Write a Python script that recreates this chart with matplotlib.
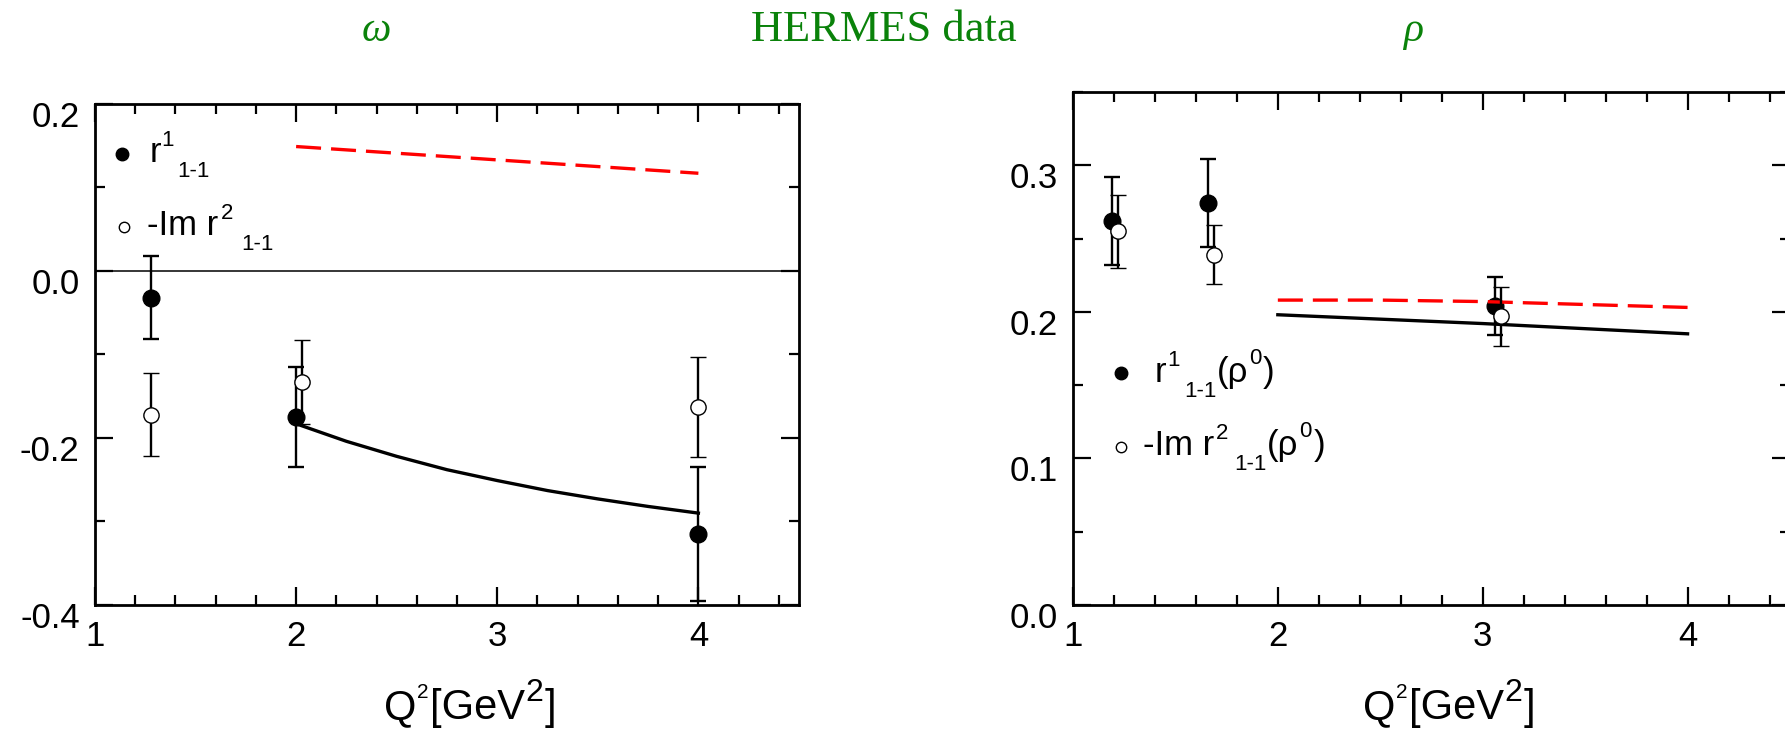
import matplotlib
matplotlib.use("Agg")
import matplotlib.pyplot as plt
import matplotlib.transforms as mtransforms
from matplotlib.ticker import MultipleLocator

# omega panel data (HERMES)
omega_q2_r1 = [1.28, 2.0, 4.0]
omega_r1 = [-0.032, -0.175, -0.315]
omega_r1_err = [0.05, 0.06, 0.08]
omega_q2_imr2 = [1.28, 2.03, 4.0]
omega_imr2 = [-0.172, -0.133, -0.163]
omega_imr2_err = [0.05, 0.05, 0.06]

omega_solid_q2 = [2.0, 2.25, 2.5, 2.75, 3.0, 3.25, 3.5, 3.75, 4.0]
omega_solid = [-0.183, -0.204, -0.222, -0.238, -0.251, -0.263, -0.273, -0.282, -0.290]
omega_dashed_q2 = [2.0, 3.0, 4.0]
omega_dashed = [0.149, 0.133, 0.117]

# rho panel data (HERMES)
rho_q2_r1 = [1.19, 1.66, 3.06]
rho_r1 = [0.262, 0.274, 0.204]
rho_r1_err = [0.030, 0.030, 0.020]
rho_q2_imr2 = [1.22, 1.69, 3.09]
rho_imr2 = [0.255, 0.239, 0.197]
rho_imr2_err = [0.025, 0.020, 0.020]

rho_solid_q2 = [2.0, 3.0, 4.0]
rho_solid = [0.198, 0.192, 0.185]
rho_dashed_q2 = [2.0, 2.5, 3.0, 3.5, 4.0]
rho_dashed = [0.208, 0.208, 0.207, 0.205, 0.203]

SANS = "Liberation Sans"
SERIF = "Liberation Serif"
GREEN = "#0a820a"

plt.rcParams["font.family"] = [SANS, "DejaVu Sans"]

fig = plt.figure(figsize=(17.85, 7.31), dpi=100)
ax1 = fig.add_axes([0.0532, 0.1724, 0.3944, 0.6854])
ax2 = fig.add_axes([0.6011, 0.1724, 0.4017, 0.7018])
renderer = fig.canvas.get_renderer()


def rich_text(ax, x, y, parts, coords="data", center=False):
    # parts: (text, fontsize, dy in px, gap before in px)
    pieces = []
    cursor = 0.0
    for text, size, dy, gap in parts:
        t = ax.annotate(text, (x, y), xycoords=coords, xytext=(0, dy),
                        textcoords="offset pixels", fontsize=size,
                        ha="left", va="baseline", annotation_clip=False)
        cursor += gap
        pieces.append((t, cursor, dy))
        cursor += t.get_window_extent(renderer).width
    shift = cursor / 2 if center else 0
    for t, cx, dy in pieces:
        t.xyann = (cx - shift, dy)


def style_axes(ax, ylim, ymajor, yminor):
    ax.set_xlim(1, 4.5)
    ax.set_ylim(*ylim)
    ax.xaxis.set_major_locator(MultipleLocator(1))
    ax.xaxis.set_minor_locator(MultipleLocator(0.2))
    ax.yaxis.set_major_locator(MultipleLocator(ymajor))
    ax.yaxis.set_minor_locator(MultipleLocator(yminor))
    ax.yaxis.set_major_formatter(plt.FuncFormatter(lambda v, p: f"{v:.1f}"))
    ax.tick_params(which="both", direction="in", top=True, right=True, width=1.6)
    ax.tick_params(which="major", length=13, labelsize=25, pad=11)
    ax.tick_params(which="minor", length=7)
    for sp in ax.spines.values():
        sp.set_linewidth(2)
    # y tick labels sit a bit below their ticks in the original
    off = mtransforms.ScaledTranslation(0, -7 / 72, fig.dpi_scale_trans)
    for lab in ax.get_yticklabels():
        lab.set_transform(lab.get_transform() + off)


def draw_data(ax, q1, v1, e1, q2, v2, e2, sq, sv, dq, dv):
    ax.errorbar(q1, v1, yerr=e1, fmt="o", color="black", ms=12, elinewidth=1.7,
                capsize=6, capthick=1.7, zorder=3)
    ax.plot(sq, sv, color="black", lw=2.4, zorder=4)
    ax.plot(dq, dv, color="red", lw=2.4, dashes=(7.5, 3), zorder=4)
    ax.errorbar(q2, v2, yerr=e2, fmt="o", color="black", mfc="white", mec="black",
                mew=1.0, ms=11, elinewidth=1.7, capsize=6, capthick=1.7, zorder=5)


# omega panel
style_axes(ax1, (-0.4, 0.2), 0.2, 0.1)
ax1.axhline(0, color="black", lw=1.1)
draw_data(ax1, omega_q2_r1, omega_r1, omega_r1_err, omega_q2_imr2, omega_imr2,
          omega_imr2_err, omega_solid_q2, omega_solid, omega_dashed_q2, omega_dashed)
ax1.plot([1.134], [0.140], "o", color="black", ms=9)
ax1.plot([1.144], [0.0527], "o", mfc="white", mec="black", mew=1.0, ms=7.5)
rich_text(ax1, 1.27, 0.1305, [("r", 25, 0, 0), ("1", 16, 16, 0), ("1-1", 16, -15, 4)])
rich_text(ax1, 1.26, 0.043, [("-Im r", 25, 0, 0), ("2", 16, 16, 2), ("1-1", 16, -15, 8)])

# rho panel
style_axes(ax2, (0, 0.35), 0.1, 0.05)
draw_data(ax2, rho_q2_r1, rho_r1, rho_r1_err, rho_q2_imr2, rho_imr2, rho_imr2_err,
          rho_solid_q2, rho_solid, rho_dashed_q2, rho_dashed)
ax2.plot([1.235], [0.158], "o", color="black", ms=9)
ax2.plot([1.235], [0.108], "o", mfc="white", mec="black", mew=1.0, ms=7.5)
rich_text(ax2, 1.40, 0.152, [("r", 25, 0, 0), ("1", 16, 16, 1), ("1-1", 16, -15, 4),
                             ("(\u03c1", 25, 0, 0), ("0", 16, 18, 1), (")", 25, 0, 2)])
rich_text(ax2, 1.34, 0.102, [("-Im r", 25, 0, 0), ("2", 16, 16, 2), ("1-1", 16, -15, 6),
                             ("(\u03c1", 25, 0, 0), ("0", 16, 18, 1), (")", 25, 0, 2)])

# axis titles below the panels
xlabel_parts = [("Q", 30, 0, 0), ("2", 15, 21, 1), ("[GeV", 30, 0, 1),
                ("2", 23, 18, 1), ("]", 30, 0, 1)]
for xc in (470 / 1785, 1449 / 1785):
    rich_text(ax1, xc, 1 - 719 / 731, xlabel_parts, coords="figure fraction", center=True)

# green headings
fig.text(376 / 1785, 0.944, "\u03c9", family=SERIF, style="italic", fontsize=30,
         color=GREEN, ha="center", va="baseline")
fig.text(884 / 1785, 0.944, "HERMES data", family=SERIF, fontsize=32,
         color=GREEN, ha="center", va="baseline")
fig.text(1413 / 1785, 0.944, "\u03c1", family=SERIF, style="italic", fontsize=30,
         color=GREEN, ha="center", va="baseline")

fig.savefig("out.png", dpi=100)
